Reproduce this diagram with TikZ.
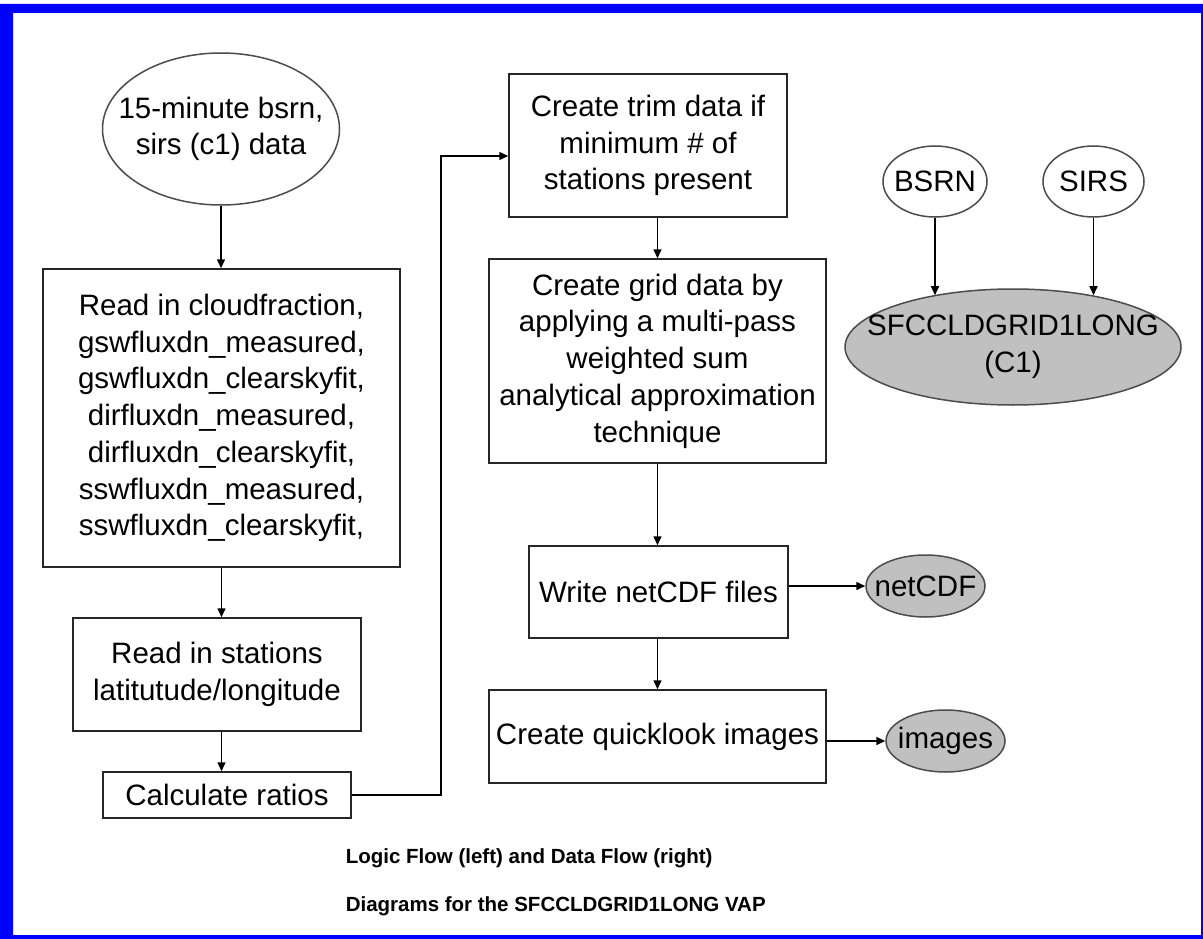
\documentclass[tikz,border=0pt]{standalone}
\usepackage{fontspec}
\setmainfont{Liberation Sans}
\usetikzlibrary{shapes.geometric,arrows.meta}

\definecolor{datagray}{RGB}{192,192,192}

\begin{document}
\begin{tikzpicture}[x=1pt,y=-1pt,
    line width=1.5pt,
    >={Triangle[length=9pt,width=8pt]},
    every node/.style={font=\fontsize{29.5}{36.7}\selectfont, align=center, inner sep=0pt},
    procbox/.style={draw=black!85, rectangle},
    source/.style={draw=black!70, ellipse, inner xsep=-300pt, inner ysep=-150pt},
    product/.style={source, fill=datagray},
    caption/.style={anchor=base west, font=\fontsize{20.5}{24}\selectfont\bfseries}]
    %frame
    \useasboundingbox (0,0) rectangle (1203,939);
    \fill[white] (0,0) rectangle (1203,939);
    \fill[blue, even odd rule] (0,4) rectangle (1215,950) (13,13) rectangle (1201,935);
    %logic flow, left column
    \node[source, minimum width=237pt, minimum height=152pt] (raw) at (221,129)
        {15-minute bsrn,\\ sirs (c1) data};
    \node[procbox, minimum width=357pt, minimum height=298pt] (readvars) at (221.5,418)
        {Read in cloudfraction,\\ gswfluxdn\_measured,\\ gswfluxdn\_clearskyfit,\\
         dirfluxdn\_measured,\\ dirfluxdn\_clearskyfit,\\ sswfluxdn\_measured,\\
         sswfluxdn\_clearskyfit,};
    \node[procbox, minimum width=288pt, minimum height=113pt] (readsta) at (217,674.5)
        {Read in stations\\ latitutude/longitude};
    \node[procbox, minimum width=248pt, minimum height=46pt] (ratios) at (227,795)
        {Calculate ratios};
    %logic flow, middle column
    \node[procbox, minimum width=278pt, minimum height=143pt] (trim) at (648,145.5)
        {Create trim data if\\ minimum \# of\\ stations present};
    \node[procbox, minimum width=337pt, minimum height=204pt] (grid) at (657.5,361)
        {Create grid data by\\ applying a multi-pass\\ weighted sum\\
         analytical approximation\\ technique};
    \node[procbox, minimum width=259pt, minimum height=92pt] (writecdf) at (658.5,592)
        {Write netCDF files};
    \node[procbox, minimum width=337pt, minimum height=93pt] (quick) at (657.5,736.5)
        {Create quicklook images};
    %outputs
    \node[product, minimum width=119pt, minimum height=62pt] (cdf) at (925.5,586) {netCDF};
    \node[product, minimum width=119pt, minimum height=62pt] (img) at (945.5,741) {images};
    %data flow, right
    \node[source, minimum width=104pt, minimum height=71pt] (bsrn) at (935,181.5) {BSRN};
    \node[source, minimum width=101pt, minimum height=71pt] (sirs) at (1093.5,181.5) {SIRS};
    \node[product, minimum width=336pt, minimum height=116pt] (sfc) at (1013,347)
        {SFCCLDGRID1LONG\\ (C1)};
    %arrows
    \draw[->] (raw.south) -- (raw.south |- readvars.north);
    \draw[->] (readvars.south) -- (readvars.south |- readsta.north);
    \draw[->] (readvars.south |- readsta.south) -- (readvars.south |- ratios.north);
    \draw[->] (ratios.east) -- ++(89,0) |- ([yshift=-10.5pt]trim.west);
    \draw[->] (grid.north |- trim.south) -- (grid.north);
    \draw[->] (grid.south) -- (grid.south |- writecdf.north);
    \draw[->] (grid.south |- writecdf.south) -- (quick.north);
    \draw[->] (writecdf.east |- cdf.west) -- (cdf.west);
    \draw[->] (quick.east |- img.west) -- (img.west);
    \draw[->] (bsrn.south) -- (bsrn.south |- sfc.147);
    \draw[->] (sirs.south) -- (sirs.south |- sfc.33);
    %labels
    \node[caption] (cap1) at (345,863) {Logic Flow (left) and Data Flow (right)};
    \node[caption] (cap2) at (345,911) {Diagrams for the SFCCLDGRID1LONG VAP};
\end{tikzpicture}
\end{document}
